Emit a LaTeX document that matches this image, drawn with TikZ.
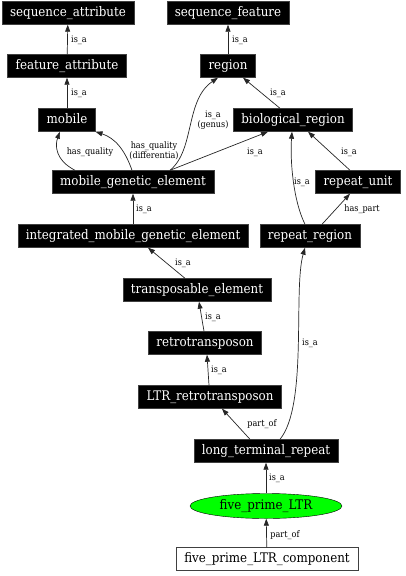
\documentclass[tikz,border=0pt]{standalone}
\usepackage{fontspec}
\setmainfont{DejaVu Serif Condensed}
\usetikzlibrary{arrows.meta,shapes.geometric}

\tikzset{
  term/.style={draw=black!75, fill=black, text=white, font=\fontsize{13.2}{15}\selectfont,
    inner xsep=8pt, inner ysep=5pt, text height=10pt, text depth=3pt},
  focus/.style={ellipse, draw=black, fill=green, font=\fontsize{13.2}{15}\selectfont,
    inner sep=0pt, minimum width=152pt, minimum height=25pt},
  leaf/.style={draw=black!75, fill=white, font=\fontsize{13.2}{15}\selectfont,
    inner xsep=8pt, inner ysep=5pt, text height=10pt, text depth=3pt},
  rel/.style={->, draw=black!85, line width=0.7pt},
  lbl/.style={font=\fontsize{9}{9.5}\selectfont, inner sep=0pt, align=center}
}

\begin{document}
\begin{tikzpicture}[>={Triangle[length=7pt,width=5pt]}, x=1pt, y=-1pt]
  \useasboundingbox (0,0) rectangle (405,576);

  % Terms
  \node[term] (sa)    at (68,13)  {sequence\_attribute};
  \node[term] (sf)    at (228,13) {sequence\_feature};
  \node[term] (fa)    at (67,66)  {feature\_attribute};
  \node[term] (reg)   at (228,66) {region};
  \node[term] (mob)   at (67,120) {mobile};
  \node[term] (bio)   at (293,120) {biological\_region};
  \node[term] (mge)   at (133,182) {mobile\_genetic\_element};
  \node[term] (ru)    at (358,182) {repeat\_unit};
  \node[term] (img)   at (133,236) {integrated\_mobile\_genetic\_element};
  \node[term] (rr)    at (310,236) {repeat\_region};
  \node[term] (te)    at (197,290) {transposable\_element};
  \node[term] (rt)    at (205,343) {retrotransposon};
  \node[term] (ltrrt) at (210,397) {LTR\_retrotransposon};
  \node[term] (ltr)   at (266,451) {long\_terminal\_repeat};
  \node[focus] (fp)   at (266,506) {five\_prime\_LTR};
  \node[leaf] (fpc)   at (267,559) {five\_prime\_LTR\_component};

  % Relations
  \draw[rel] (fa) -- (sa);
  \draw[rel] (reg) -- (sf);
  \draw[rel] (mob) -- (fa);
  \draw[rel] ([xshift=-13pt]bio.north) -- ([xshift=15pt]reg.south);
  \draw[rel] ([xshift=37pt]mge.north) .. controls (195,150) and (185,100) .. ([xshift=-10pt]reg.south);
  \draw[rel] ([xshift=-58pt]mge.north) .. controls (55,160) and (55,145) .. ([xshift=-7pt]mob.south);
  \draw[rel] ([xshift=-1pt]mge.north) .. controls (125,150) and (115,138) .. (mob.south east);
  \draw[rel] ([xshift=37pt]mge.north) -- ([xshift=-25pt]bio.south);
  \draw[rel] ([xshift=-5pt]rr.north) .. controls (293,200) and (290,160) .. ([xshift=-1pt]bio.south);
  \draw[rel] ([xshift=-8pt]ru.north) -- ([xshift=15pt]bio.south);
  \draw[rel] ([xshift=12pt]rr.north) -- ([xshift=-8pt]ru.south);
  \draw[rel] (img) -- (mge);
  \draw[rel] ([xshift=-12pt]te.north) -- ([xshift=15pt]img.south);
  \draw[rel] ([xshift=-1pt]rt.north) -- ([xshift=2pt]te.south);
  \draw[rel] ([xshift=-1pt]ltrrt.north) -- ([xshift=2pt]rt.south);
  \draw[rel] ([xshift=-16pt]ltr.north) -- ([xshift=12pt]ltrrt.south);
  \draw[rel] ([xshift=14pt]ltr.north) .. controls (308,405) and (293,290) .. ([xshift=-5pt]rr.south);
  \draw[rel] (fp) -- (ltr);
  \draw[rel] (fpc) -- (fp);

  % Relation labels
  \node[lbl] (l-fa-sa)    at (79,40)   {is\_a};
  \node[lbl] (l-reg-sf)   at (240,40)  {is\_a};
  \node[lbl] (l-mob-fa)   at (79,93)   {is\_a};
  \node[lbl] (l-bio-reg)  at (278,93)  {is\_a};
  \node[lbl] (l-mge-reg)  at (213,120) {is\_a\\(genus)};
  \node[lbl] (l-mge-mob)  at (90,152)  {has\_quality};
  \node[lbl] (l-mge-mob2) at (154,151) {has\_quality\\(differentia)};
  \node[lbl] (l-mge-bio)  at (255,152) {is\_a};
  \node[lbl] (l-rr-bio)   at (302,182) {is\_a};
  \node[lbl] (l-ru-bio)   at (349,152) {is\_a};
  \node[lbl] (l-rr-ru)    at (362,209) {has\_part};
  \node[lbl] (l-img-mge)  at (144,209) {is\_a};
  \node[lbl] (l-te-img)   at (183,263) {is\_a};
  \node[lbl] (l-rt-te)    at (213,317) {is\_a};
  \node[lbl] (l-ltrrt-rt) at (219,370) {is\_a};
  \node[lbl] (l-ltr-ltrrt) at (262,424) {part\_of};
  \node[lbl] (l-ltr-rr)   at (310,343) {is\_a};
  \node[lbl] (l-fp-ltr)   at (277,478) {is\_a};
  \node[lbl] (l-fpc-fp)   at (285,535) {part\_of};
\end{tikzpicture}
\end{document}
